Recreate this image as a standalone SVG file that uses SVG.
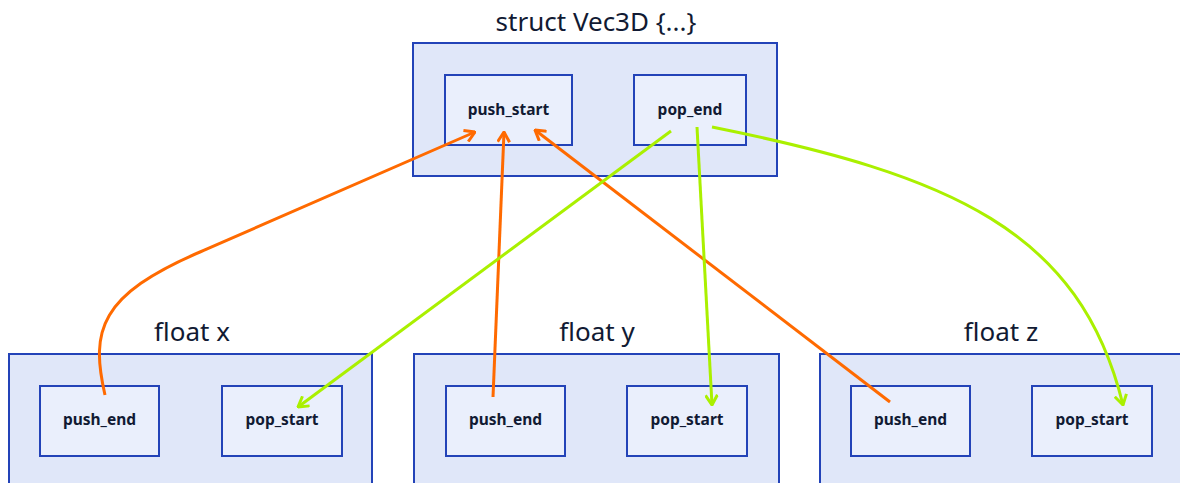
<svg xmlns="http://www.w3.org/2000/svg" width="1180" height="483" viewBox="0 0 1180 483">
<style>
.outer{fill:#e0e7f9;stroke:#2343b8;stroke-width:2}
.inner{fill:#eaeffc;stroke:#2343b8;stroke-width:2}
.title{font-family:"Noto Sans","Open Sans",sans-serif;font-size:26px;fill:#111a33;text-anchor:middle}
.lbl{font-family:"Noto Sans","Open Sans",sans-serif;font-size:15.5px;font-weight:bold;fill:#111a33;text-anchor:middle}
.or{fill:none;stroke:#ff6a00;stroke-width:3;marker-end:url(#ao)}
.gr{fill:none;stroke:#aaf000;stroke-width:3;marker-end:url(#ag)}
</style>
<defs>
<marker id="ao" viewBox="0 0 12 14" markerWidth="12" markerHeight="14" refX="11" refY="7" orient="auto" markerUnits="userSpaceOnUse"><path d="M1,1 L11,7 L1,13" fill="none" stroke="#ff6a00" stroke-width="3"/></marker>
<marker id="ag" viewBox="0 0 12 14" markerWidth="12" markerHeight="14" refX="11" refY="7" orient="auto" markerUnits="userSpaceOnUse"><path d="M1,1 L11,7 L1,13" fill="none" stroke="#aaf000" stroke-width="3"/></marker>
</defs>
<g id="vec3d">
<text class="title" x="596" y="31">struct Vec3D {...}</text>
<rect class="outer" x="413" y="43" width="364" height="133"/>
<rect class="inner" x="445" y="75" width="127" height="70"/>
<text class="lbl" x="508.5" y="115">push_start</text>
<rect class="inner" x="634" y="75" width="112" height="70"/>
<text class="lbl" x="690" y="115">pop_end</text>
</g>
<g id="floatx">
<text class="title" x="192" y="341">float x</text>
<rect class="outer" x="9" y="354" width="363" height="140"/>
<rect class="inner" x="40" y="386" width="119" height="70"/>
<text class="lbl" x="99.5" y="425">push_end</text>
<rect class="inner" x="222" y="386" width="120" height="70"/>
<text class="lbl" x="282" y="425">pop_start</text>
</g>
<g id="floaty">
<text class="title" x="597" y="341">float y</text>
<rect class="outer" x="414" y="354" width="365" height="140"/>
<rect class="inner" x="446" y="386" width="119" height="70"/>
<text class="lbl" x="505.5" y="425">push_end</text>
<rect class="inner" x="627" y="386" width="120" height="70"/>
<text class="lbl" x="687" y="425">pop_start</text>
</g>
<g id="floatz">
<text class="title" x="1001" y="341">float z</text>
<rect class="outer" x="820" y="354" width="370" height="140"/>
<rect class="inner" x="851" y="386" width="119" height="70"/>
<text class="lbl" x="910.5" y="425">push_end</text>
<rect class="inner" x="1032" y="386" width="120" height="70"/>
<text class="lbl" x="1092" y="425">pop_start</text>
</g>
<g id="connectors">
<path class="or" d="M105,395 C90,330 100,295 200,252 C300,209 400,165 475,132"/>
<path class="or" d="M493,397 L504,132"/>
<path class="or" d="M890,402 L535,130"/>
<path class="gr" d="M671,131 L298,407"/>
<path class="gr" d="M697,127 L712,405"/>
<path class="gr" d="M712,127 C950,175 1080,230 1123,405"/>
</g>
</svg>
